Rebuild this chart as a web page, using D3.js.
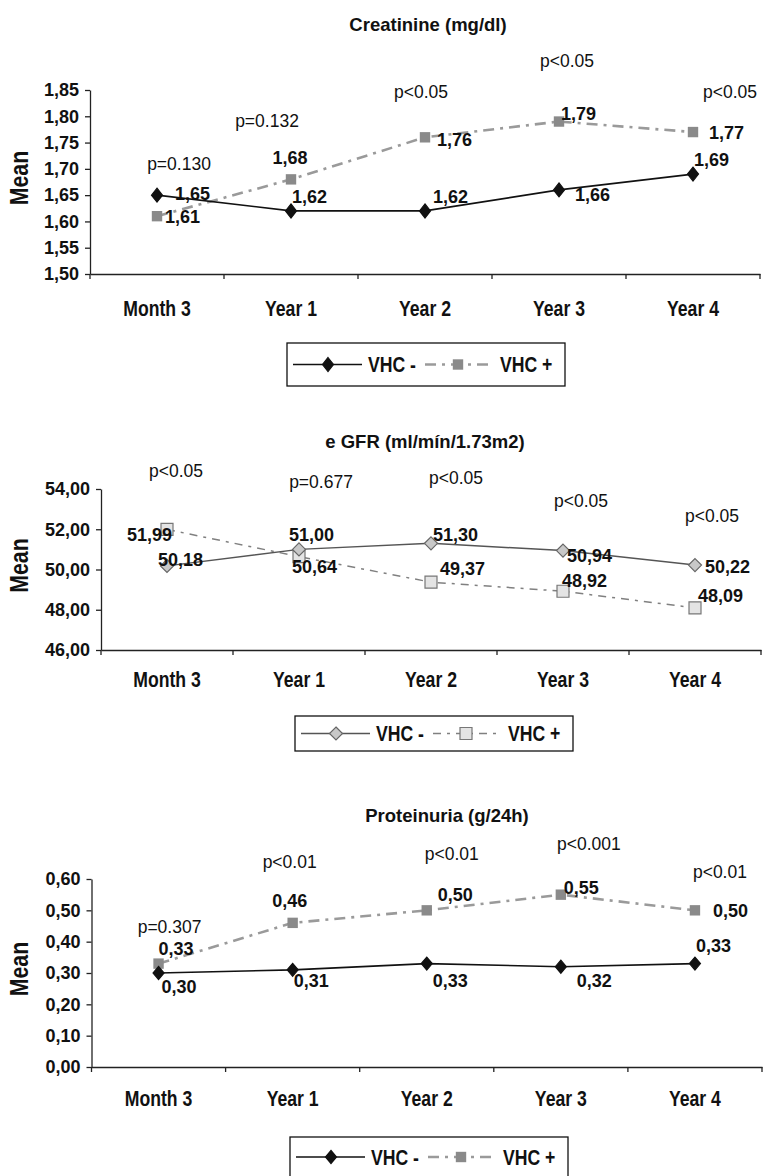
<!DOCTYPE html>
<html>
<head>
<meta charset="utf-8">
<script src="https://cdnjs.cloudflare.com/ajax/libs/d3/7.8.5/d3.min.js"></script>
<style>
  body { margin: 0; background: #fff; }
  svg { display: block; font-family: "Liberation Sans", Arial, Helvetica, sans-serif; }
</style>
</head>
<body>
<div id="chart-container"></div>
<script>
// categorías y series
const categories = ["Month 3", "Year 1", "Year 2", "Year 3", "Year 4"];
const seriesNames = ["VHC -", "VHC +"];

// Creatinine (mg/dl)
const creatNeg = [1.65, 1.62, 1.62, 1.66, 1.69];
const creatPos = [1.61, 1.68, 1.76, 1.79, 1.77];
const creatP = ["p=0.130", "p=0.132", "p<0.05", "p<0.05", "p<0.05"];
const creatTicks = [1.50, 1.55, 1.60, 1.65, 1.70, 1.75, 1.80, 1.85];

// e GFR (ml/mín/1.73m2)
const gfrNeg = [50.18, 51.00, 51.30, 50.94, 50.22];
const gfrPos = [51.99, 50.64, 49.37, 48.92, 48.09];
const gfrP = ["p<0.05", "p=0.677", "p<0.05", "p<0.05", "p<0.05"];
const gfrTicks = [46, 48, 50, 52, 54];

// Proteinuria (g/24h)
const protNeg = [0.30, 0.31, 0.33, 0.32, 0.33];
const protPos = [0.33, 0.46, 0.50, 0.55, 0.50];
const protP = ["p=0.307", "p<0.01", "p<0.01", "p<0.001", "p<0.01"];
const protTicks = [0, 0.1, 0.2, 0.3, 0.4, 0.5, 0.6];

// formato con coma decimal
const fmt = d3.formatLocale({ decimal: ",", thousands: ".", grouping: [3], currency: ["", ""] }).format(".2f");

// letra estrecha simulada (no hay Arial Narrow)
const NARROW = 0.82;

const svg = d3.select("#chart-container")
  .append("svg")
  .attr("width", 763)
  .attr("height", 1176);

// marcadores
const diamond = (w, h) => `M0,${-h}L${w},0L0,${h}L${-w},0Z`;
const square = (s) => `M${-s},${-s}H${s}V${s}H${-s}Z`;

// configuración de cada panel (posiciones y estilos)
const panels = [
  {
    title: "Creatinine (mg/dl)", titleX: 428, titleY: 31,
    neg: creatNeg, pos: creatPos, pvals: creatP, ticks: creatTicks,
    domain: [1.50, 1.85], left: 90, right: 760, top: 90, bottom: 274,
    xPad: 27, legend: { x: 287, y: 343, h: 43 },
    negStyle: { line: "#111", width: 1.6, dash: null, marker: diamond(5.5, 7), fill: "#111", stroke: "#111" },
    posStyle: { line: "#9a9a9a", width: 2.6, dash: "11,6,3,6", marker: square(5.2), fill: "#8a8a8a", stroke: "none" },
    negLab: [[18, 5, "start"], [1, -8, "start"], [8, -8, "start"], [16, 11, "start"], [1, -8, "start"]],
    posLab: [[8, 7, "start"], [-1, -15, "middle"], [12, 9, "start"], [2, -2, "start"], [16, 7, "start"]],
    pDx: [22, -24, -4, 8, 37], pY: [1.697, 1.78, 1.835, 1.894, 1.835]
  },
  {
    title: "e GFR (ml/mín/1.73m2)", titleX: 425, titleY: 448,
    neg: gfrNeg, pos: gfrPos, pvals: gfrP, ticks: gfrTicks,
    domain: [46, 54], left: 101, right: 761, top: 489, bottom: 650,
    xPad: 22, legend: { x: 295, y: 716, h: 35 },
    negStyle: { line: "#555", width: 1.5, dash: null, marker: diamond(6.5, 6.5), fill: "#c8c8c8", stroke: "#666" },
    posStyle: { line: "#808080", width: 1.5, dash: "8,6,3,6", marker: square(6), fill: "#e4e4e4", stroke: "#777" },
    negLab: [[-9, 0, "start"], [-10, -8, "start"], [2, -2, "start"], [4, 11, "start"], [10, 8, "start"]],
    posLab: [[5, 12, "end"], [-7, 16, "start"], [9, -7, "start"], [-1, -4, "start"], [3, -6, "start"]],
    pDx: [9, 22, 25, 18, 17], pY: [54.60, 54.05, 54.25, 53.11, 52.36]
  },
  {
    title: "Proteinuria (g/24h)", titleX: 447, titleY: 822,
    neg: protNeg, pos: protPos, pvals: protP, ticks: protTicks,
    domain: [0, 0.6], left: 91.5, right: 762, top: 879, bottom: 1067,
    xPad: 24, legend: { x: 290, y: 1137, h: 40 },
    negStyle: { line: "#111", width: 1.6, dash: null, marker: diamond(5.5, 6.5), fill: "#111", stroke: "#111" },
    posStyle: { line: "#9a9a9a", width: 2.6, dash: "11,6,3,6", marker: square(5.2), fill: "#8a8a8a", stroke: "none" },
    negLab: [[3, 20, "start"], [1, 17, "start"], [6, 23, "start"], [16, 20, "start"], [1, -12, "start"]],
    posLab: [[0, -9, "start"], [-3, -16, "middle"], [11, -9, "start"], [3, -1, "start"], [18, 7, "start"]],
    pDx: [11, -3, 25, 28, 25], pY: [0.428, 0.635, 0.661, 0.693, 0.603]
  }
];

panels.forEach(drawPanel);

function drawPanel(p) {
  const g = svg.append("g");

  const x = d3.scaleBand().domain(categories).range([p.left, p.right]);
  const y = d3.scaleLinear().domain(p.domain).range([p.bottom, p.top]);
  const cx = c => x(c) + x.bandwidth() / 2;

  // título
  g.append("text")
    .attr("x", p.titleX)
    .attr("y", p.titleY)
    .attr("text-anchor", "middle")
    .style("font-size", "18.5px")
    .style("font-weight", "bold")
    .attr("fill", "#111")
    .text(p.title);

  // eje y
  g.append("g")
    .attr("transform", `translate(${p.left},0)`)
    .call(d3.axisLeft(y).tickValues(p.ticks).tickFormat(fmt).tickSize(5).tickSizeOuter(0).tickPadding(6))
    .call(a => a.attr("font-family", null).attr("font-size", null))
    .call(a => a.selectAll("text").style("font-size", "18px").style("font-weight", "bold").attr("fill", "#111"))
    .call(a => a.selectAll("line, path").attr("stroke", "#222").attr("stroke-width", 1.3));

  // eje x (etiquetas centradas, marcas en los bordes)
  g.append("g")
    .attr("transform", `translate(0,${p.bottom})`)
    .call(d3.axisBottom(x).tickSize(0).tickSizeOuter(0).tickPadding(p.xPad))
    .call(a => a.attr("font-family", null).attr("font-size", null))
    .call(a => a.selectAll("text")
      .attr("transform", `scale(${NARROW},1)`)
      .style("font-size", "21.5px").style("font-weight", "bold").attr("fill", "#111"))
    .call(a => a.select(".domain").attr("stroke", "#222").attr("stroke-width", 1.3));

  const edges = categories.map(c => x(c)).concat([x.range()[1]]);
  g.selectAll(".edge")
    .data(edges)
    .join("line")
    .attr("x1", d => d).attr("x2", d => d)
    .attr("y1", p.bottom).attr("y2", p.bottom + 5)
    .attr("stroke", "#222").attr("stroke-width", 1.3);

  // etiqueta "Mean"
  g.append("text")
    .attr("transform", `translate(28,${(p.top + p.bottom) / 2 - 4}) rotate(-90) scale(${NARROW},1)`)
    .attr("text-anchor", "middle")
    .style("font-size", "26px")
    .style("font-weight", "bold")
    .attr("fill", "#111")
    .text("Mean");

  // líneas
  const line = d3.line()
    .x((d, i) => cx(categories[i]))
    .y(d => y(d));

  [[p.pos, p.posStyle], [p.neg, p.negStyle]].forEach(([vals, st]) => {
    g.append("path")
      .datum(vals)
      .attr("fill", "none")
      .attr("stroke", st.line)
      .attr("stroke-width", st.width)
      .attr("stroke-dasharray", st.dash)
      .attr("d", line);
  });

  [[p.pos, p.posStyle], [p.neg, p.negStyle]].forEach(([vals, st]) => {
    g.selectAll(null)
      .data(vals)
      .join("path")
      .attr("transform", (d, i) => `translate(${cx(categories[i])},${y(d)})`)
      .attr("d", st.marker)
      .attr("fill", st.fill)
      .attr("stroke", st.stroke)
      .attr("stroke-width", 1.2);
  });

  // etiquetas de valores
  [[p.neg, p.negLab], [p.pos, p.posLab]].forEach(([vals, lab]) => {
    g.selectAll(null)
      .data(vals)
      .join("text")
      .attr("x", (d, i) => cx(categories[i]) + lab[i][0])
      .attr("y", (d, i) => y(d) + lab[i][1])
      .attr("text-anchor", (d, i) => lab[i][2])
      .style("font-size", "18px")
      .style("font-weight", "bold")
      .attr("fill", "#111")
      .text(d => fmt(d));
  });

  // valores p
  g.selectAll(null)
    .data(p.pvals)
    .join("text")
    .attr("x", (d, i) => cx(categories[i]) + p.pDx[i])
    .attr("y", (d, i) => y(p.pY[i]))
    .attr("text-anchor", "middle")
    .style("font-size", "17.5px")
    .attr("fill", "#111")
    .text(d => d);

  // leyenda
  const L = p.legend;
  const lg = g.append("g").attr("transform", `translate(${L.x},${L.y})`);
  lg.append("rect")
    .attr("width", 278).attr("height", L.h)
    .attr("fill", "#fff").attr("stroke", "#111").attr("stroke-width", 1.3);
  const my = L.h / 2;
  [[p.negStyle, 6, 75, 41, 81], [p.posStyle, 138, 206, 171, 213]].forEach(([st, x1, x2, mx, tx], i) => {
    lg.append("line")
      .attr("x1", x1).attr("x2", x2).attr("y1", my).attr("y2", my)
      .attr("stroke", st.line).attr("stroke-width", st.width)
      .attr("stroke-dasharray", st.dash);
    lg.append("path")
      .attr("transform", `translate(${mx},${my})`)
      .attr("d", st.marker)
      .attr("fill", st.fill).attr("stroke", st.stroke).attr("stroke-width", 1.2);
    lg.append("text")
      .attr("transform", `translate(${tx},${my + 7.5}) scale(${NARROW},1)`)
      .style("font-size", "21.5px")
      .style("font-weight", "bold")
      .attr("fill", "#111")
      .text(seriesNames[i]);
  });
}
</script>
</body>
</html>
